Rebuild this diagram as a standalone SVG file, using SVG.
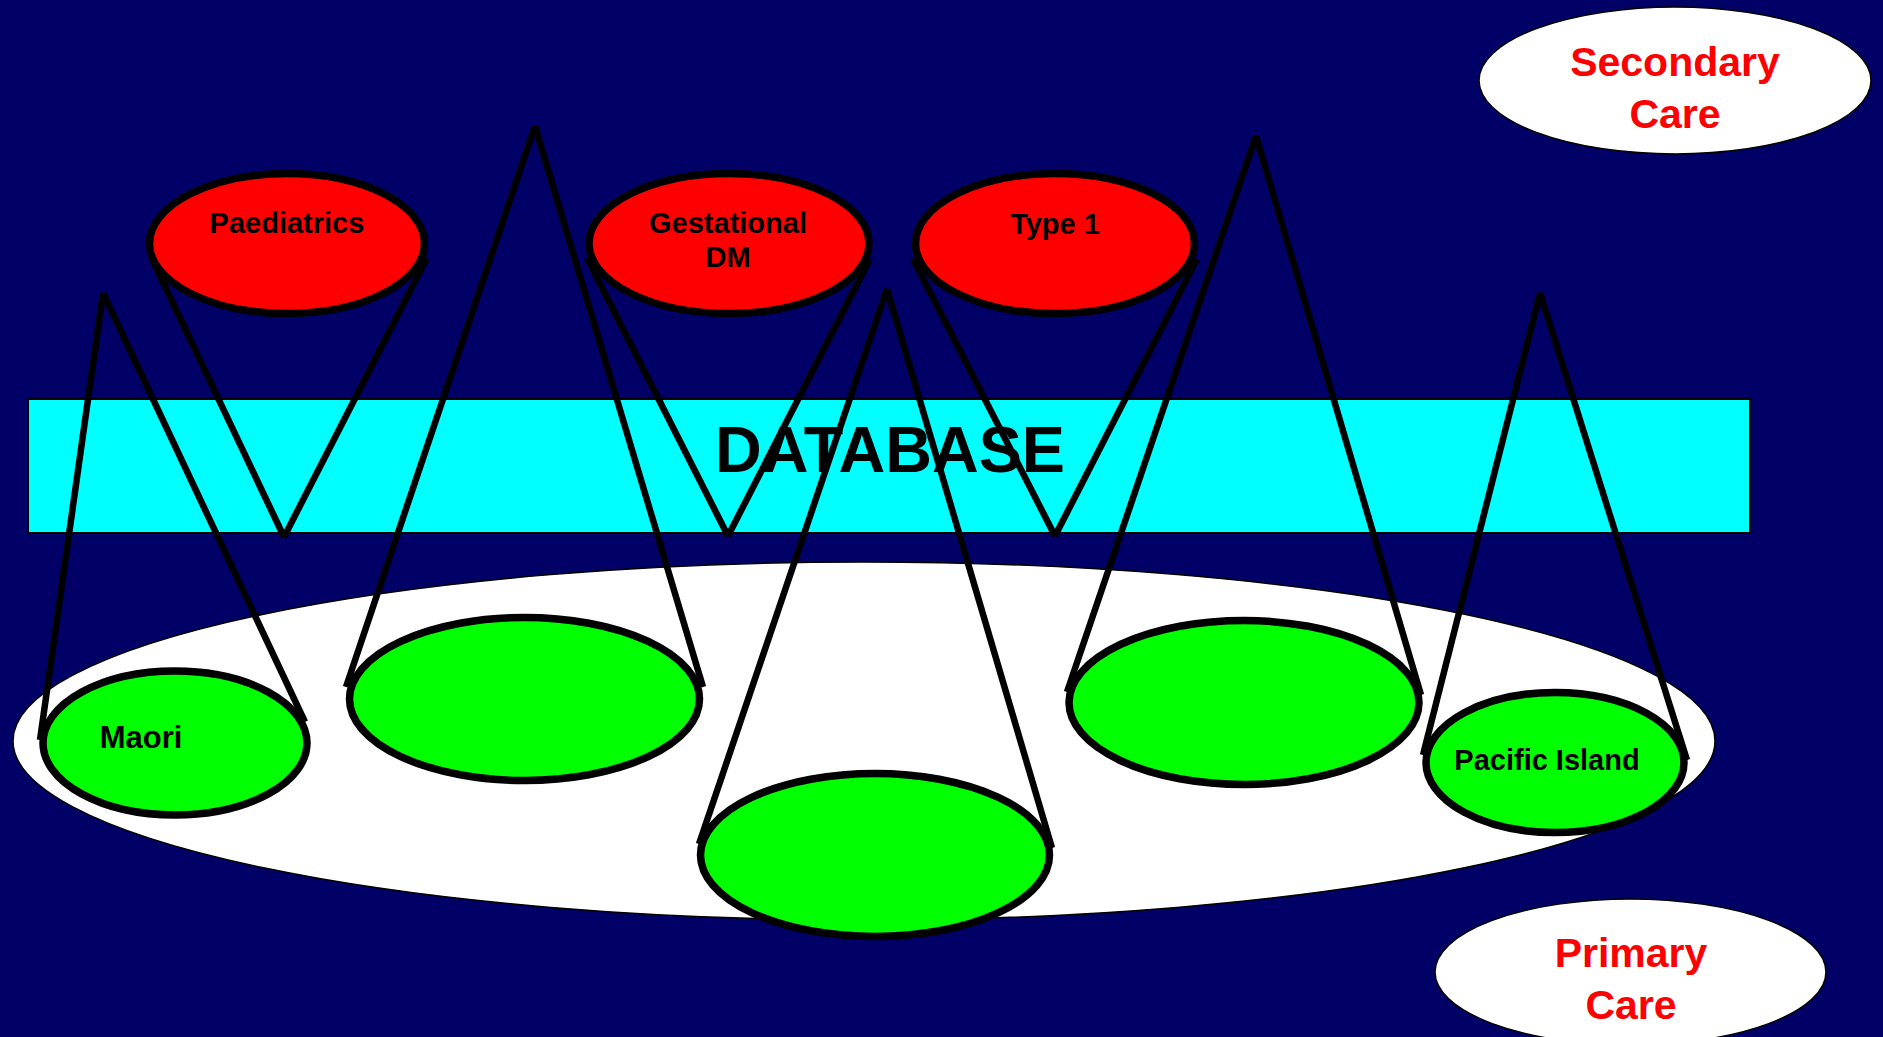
<svg xmlns="http://www.w3.org/2000/svg" width="1883" height="1037" viewBox="0 0 1883 1037">
<style>
.lbl{font-family:"Liberation Sans",Arial,sans-serif;font-weight:bold;fill:#000;text-anchor:middle}
.care{font-family:"Liberation Sans",Arial,sans-serif;font-weight:bold;fill:#ff0000;text-anchor:middle;font-size:41px}
.red{fill:#ff0000;stroke:#000;stroke-width:7.5}
.green{fill:#00ff00;stroke:#000;stroke-width:7.5}
.thin{fill:#fff;stroke:#000;stroke-width:1.5}
.cone line{stroke:#000;stroke-width:6.5;stroke-linecap:butt}
</style>
<rect x="0" y="0" width="1883" height="1037" fill="#000066"/>
<g id="secondary-care">
<ellipse class="thin" cx="1675" cy="80.5" rx="196" ry="73.5"/>
<text class="care" x="1675" y="76">Secondary</text>
<text class="care" x="1675" y="128">Care</text>
</g>
<g id="primary-care">
<ellipse class="thin" cx="1630.5" cy="972" rx="195.5" ry="73"/>
<text class="care" x="1631" y="967">Primary</text>
<text class="care" x="1631" y="1019">Care</text>
</g>
<g id="primary-care-area">
<ellipse class="thin" cx="864" cy="741" rx="851" ry="179"/>
</g>
<g id="database">
<rect x="28" y="399" width="1722" height="134" fill="#00ffff" stroke="#000" stroke-width="2"/>
<text class="lbl" x="890" y="472" font-size="65" textLength="350" lengthAdjust="spacingAndGlyphs">DATABASE</text>
</g>
<g id="paediatrics">
<ellipse class="red" cx="287" cy="243.5" rx="137.5" ry="70"/>
<text class="lbl" x="287" y="233" font-size="29">Paediatrics</text>
</g>
<g id="gestational-dm">
<ellipse class="red" cx="729" cy="243.5" rx="140" ry="70"/>
<text class="lbl" x="728" y="233" font-size="29">Gestational</text>
<text class="lbl" x="728" y="267" font-size="29">DM</text>
</g>
<g id="type-1">
<ellipse class="red" cx="1055" cy="243.5" rx="139.5" ry="70"/>
<text class="lbl" x="1055" y="234" font-size="29">Type 1</text>
</g>
<g id="maori">
<ellipse class="green" cx="175" cy="743" rx="132" ry="72"/>
<text class="lbl" x="141" y="748" font-size="31">Maori</text>
</g>
<g id="group-2">
<ellipse class="green" cx="524.5" cy="699" rx="175" ry="81.5"/>
</g>
<g id="group-3">
<ellipse class="green" cx="875" cy="855" rx="174.5" ry="81.5"/>
</g>
<g id="group-4">
<ellipse class="green" cx="1244" cy="702.5" rx="175" ry="82"/>
</g>
<g id="pacific-island">
<ellipse class="green" cx="1555" cy="762.5" rx="129" ry="70"/>
<text class="lbl" x="1547" y="770" font-size="29">Pacific Island</text>
</g>
<g id="connectors" class="cone">
<line x1="103" y1="293" x2="40" y2="740"/>
<line x1="103" y1="293" x2="305" y2="722"/>
<line x1="535" y1="126" x2="346" y2="687"/>
<line x1="535" y1="126" x2="703" y2="687"/>
<line x1="887" y1="289" x2="699" y2="844"/>
<line x1="887" y1="289" x2="1052" y2="848"/>
<line x1="1256" y1="136" x2="1067" y2="692"/>
<line x1="1256" y1="136" x2="1421" y2="695"/>
<line x1="1540" y1="293" x2="1423" y2="755"/>
<line x1="1540" y1="293" x2="1687" y2="760"/>
<line x1="152" y1="259" x2="284" y2="537"/>
<line x1="427" y1="258" x2="284" y2="537"/>
<line x1="587" y1="258" x2="728" y2="536"/>
<line x1="870" y1="259" x2="728" y2="536"/>
<line x1="913" y1="259" x2="1055" y2="536"/>
<line x1="1197" y1="259" x2="1055" y2="536"/>
</g>
</svg>
